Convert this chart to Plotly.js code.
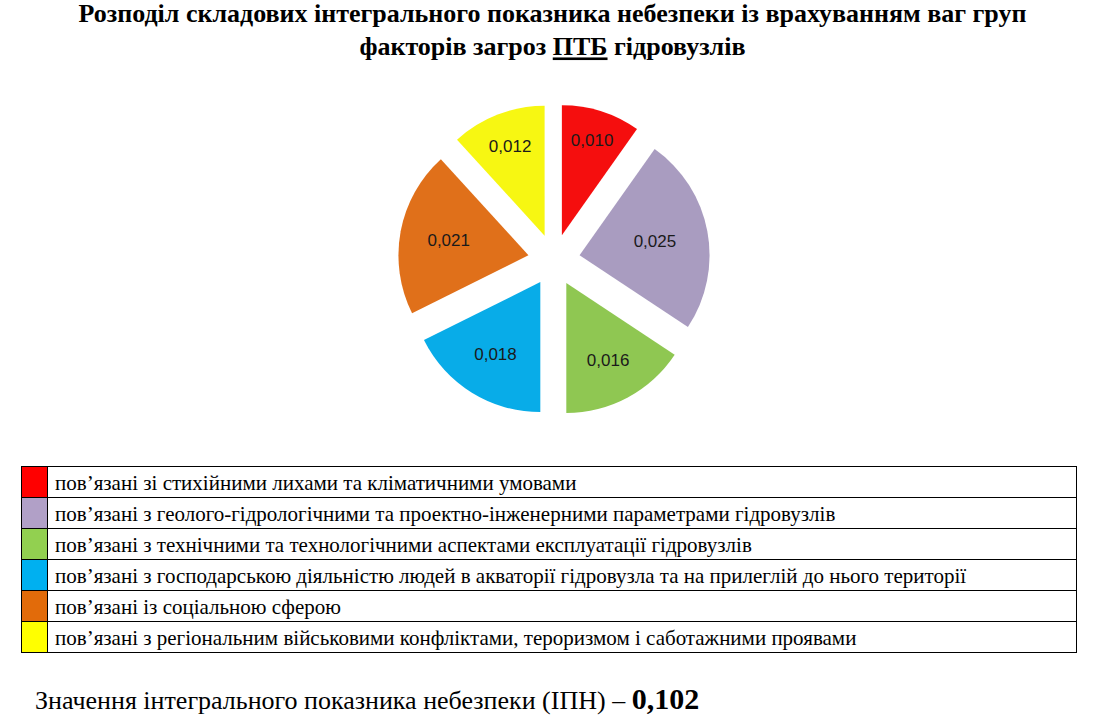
<!DOCTYPE html>
<html>
<head>
<meta charset="utf-8">
<script src="https://cdn.plot.ly/plotly-3.0.1.min.js"></script>
<style>html,body{margin:0;padding:0;background:#fff;}#chart{width:1094px;height:722px;}</style>
</head>
<body>
<div id="chart"></div>
<script>
// ---- data ----
const categories = [
  "пов’язані зі стихійними лихами та кліматичними умовами",
  "пов’язані з геолого-гідрологічними та проектно-інженерними параметрами гідровузлів",
  "пов’язані з технічними та технологічними аспектами експлуатації гідровузлів",
  "пов’язані з господарською діяльністю людей в акваторії гідровузла та на прилеглій до нього території",
  "пов’язані із соціальною сферою",
  "пов’язані з регіональним військовими конфліктами, тероризмом і саботажними проявами"
];
const values = [0.010, 0.025, 0.016, 0.018, 0.021, 0.012];
const colors = ["#F50E0E", "#A99CC0", "#8FC752", "#08ACE8", "#E0701A", "#F7F712"];
const tableColors = ["#FF0000", "#B1A0C7", "#92D050", "#00B0F0", "#E26B0A", "#FFFF00"];
const titleText = "Розподіл складових інтегрального показника небезпеки із врахуванням ваг груп<br>факторів загроз <u>ПТБ</u> гідровузлів";
const totalLabel = "Значення інтегрального показника небезпеки (ІПН) – ";

const total = values.reduce((a, b) => a + b, 0);
const SERIF = "Liberation Serif";

const pie = {
  type: "pie",
  values: values,
  labels: categories,
  marker: {colors: colors, line: {width: 0}},
  sort: false,
  direction: "clockwise",
  rotation: 0,
  pull: values.map(() => 0.2),
  texttemplate: "%{value:.3f}",
  textposition: "inside",
  insidetextorientation: "horizontal",
  textfont: {family: "Liberation Sans", size: 17, color: "#1a1a1a"},
  hoverinfo: "label+value",
  domain: {x: [0.3638, 0.649], y: [0.4238, 0.856]},
  showlegend: false
};

const table = {
  type: "table",
  domain: {x: [21/1094, 1076/1094], y: [1 - 656/722, 1 - 466/722]},
  columnwidth: [26, 1029],
  header: {
    values: ["", categories[0]],
    align: "left",
    height: 31,
    line: {color: "#000", width: 1},
    fill: {color: [tableColors[0], "#ffffff"]},
    font: {family: SERIF, size: 21, color: "#000"}
  },
  cells: {
    values: [categories.slice(1).map(() => ""), categories.slice(1)],
    align: "left",
    height: 31,
    line: {color: "#000", width: 1},
    fill: {color: [tableColors.slice(1), categories.slice(1).map(() => "#ffffff")]},
    font: {family: SERIF, size: 21, color: "#000"}
  }
};

const layout = {
  width: 1094,
  height: 722,
  margin: {l: 0, r: 0, t: 0, b: 0},
  paper_bgcolor: "#ffffff",
  separators: ", ",
  showlegend: false,
  font: {family: SERIF},
  title: {
    text: titleText,
    x: 0.505,
    xanchor: "center",
    y: 0.97,
    yanchor: "top",
    yref: "container",
    font: {family: SERIF, size: 26, color: "#000", weight: "bold"}
  },
  annotations: [{
    xref: "paper", yref: "paper",
    x: 33/1094, y: 1 - 698/722,
    xanchor: "left", yanchor: "middle",
    showarrow: false,
    text: totalLabel + "<b><span style=\"font-size:30px\">" + total.toFixed(3).replace(".", ",") + "</span></b>",
    font: {family: SERIF, size: 26, color: "#000"}
  }]
};

Plotly.newPlot("chart", [pie, table], layout, {displayModeBar: false, staticPlot: true});
</script>
</body>
</html>
